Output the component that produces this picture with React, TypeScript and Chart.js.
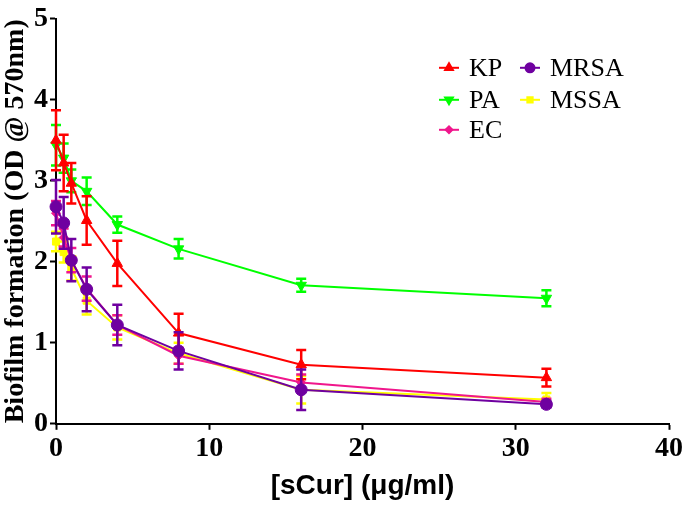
import React, { useEffect, useRef } from "react";
import { Chart, registerables } from "chart.js";
import { drawPoint } from "chart.js/helpers";

Chart.register(...registerables);

const concentrations = [0, 0.5, 1, 2, 4, 8, 16, 32];
const xTicks = [0, 10, 20, 30, 40];
const yTicks = [0, 1, 2, 3, 4, 5];

const kpMean = [3.5, 3.22, 2.97, 2.51, 1.98, 1.12, 0.73, 0.57];
const kpErr = [0.37, 0.35, 0.25, 0.3, 0.28, 0.24, 0.18, 0.11];
const paMean = [3.44, 3.28, 3.0, 2.87, 2.46, 2.16, 1.71, 1.55];
const paErr = [0.25, 0.18, 0.14, 0.17, 0.1, 0.12, 0.08, 0.1];
const ecMean = [2.6, 2.3, 2.02, 1.67, 1.22, 0.84, 0.51, 0.27];
const ecErr = [0.15, 0.11, 0.15, 0.15, 0.12, 0.1, 0.1, 0.04];
const mrsaMean = [2.68, 2.48, 2.02, 1.66, 1.22, 0.9, 0.42, 0.24];
const mrsaErr = [0.33, 0.32, 0.26, 0.27, 0.25, 0.23, 0.25, 0.04];
const mssaMean = [2.25, 2.12, 1.92, 1.52, 1.19, 0.87, 0.42, 0.3];
const mssaErr = [0.12, 0.13, 0.15, 0.17, 0.15, 0.13, 0.17, 0.08];

const seriesLabels = ["KP", "PA", "EC", "MRSA", "MSSA"];
const seriesColors = ["#ff0000", "#00ff00", "#f0168c", "#6f00a0", "#ffff00"];

const toPoints = (vals: number[]) => concentrations.map((x, i) => ({ x, y: vals[i] }));

const errorBarPlugin = {
  id: "errorBars",
  beforeDatasetDraw(chart: any, args: any) {
    const ds = chart.data.datasets[args.index];
    const errs: number[] = ds.errors;
    if (!errs) return;
    const ctx = chart.ctx;
    const ys = chart.scales.y;
    ctx.save();
    ctx.strokeStyle = ds.borderColor;
    ctx.lineWidth = 2.5;
    args.meta.data.forEach((pt: any, i: number) => {
      const v = ds.data[i].y;
      const e = errs[i];
      const yt = ys.getPixelForValue(v + e);
      const yb = ys.getPixelForValue(v - e);
      const x = pt.x;
      const cap = 5;
      ctx.beginPath();
      ctx.moveTo(x, yt);
      ctx.lineTo(x, yb);
      ctx.moveTo(x - cap, yt);
      ctx.lineTo(x + cap, yt);
      ctx.moveTo(x - cap, yb);
      ctx.lineTo(x + cap, yb);
      ctx.stroke();
    });
    ctx.restore();
  },
};

const legendPlugin = {
  id: "sideLegend",
  afterDraw(chart: any) {
    const { ctx, chartArea } = chart;
    const ds = chart.data.datasets;
    const colX = [chartArea.right - 230, chartArea.right - 149];
    const rowY = [chartArea.top + 49, chartArea.top + 81, chartArea.top + 111];
    const layout = [
      [0, 0],
      [0, 1],
      [0, 2],
      [1, 0],
      [1, 1],
    ];
    ctx.save();
    ctx.font = "26px 'Liberation Serif'";
    ctx.textBaseline = "middle";
    ctx.fillStyle = "#000";
    ds.forEach((d: any, i: number) => {
      const [c, r] = layout[i];
      const x = colX[c];
      const y = rowY[r];
      ctx.strokeStyle = d.borderColor;
      ctx.lineWidth = 2;
      ctx.beginPath();
      ctx.moveTo(x, y);
      ctx.lineTo(x + 20, y);
      ctx.stroke();
      ctx.fillStyle = d.pointBackgroundColor;
      drawPoint(
        ctx,
        { pointStyle: d.pointStyle, rotation: d.pointRotation || 0, radius: d.pointRadius * 0.75, borderWidth: 1 },
        x + 10,
        y
      );
      ctx.fillStyle = "#000";
      ctx.fillText(d.label, x + 30, y + 1);
    });
    ctx.restore();
  },
};

export default function App() {
  const ref = useRef<HTMLCanvasElement | null>(null);
  useEffect(() => {
    if (!ref.current) return;
    const means = [kpMean, paMean, ecMean, mrsaMean, mssaMean];
    const errs = [kpErr, paErr, ecErr, mrsaErr, mssaErr];
    const styles = ["triangle", "triangle", "rectRot", "circle", "rect"];
    const rotations = [0, 180, 0, 0, 0];
    const radii = [6, 6, 4.5, 6, 5];
    const orders = [1, 4, 2, 0, 3];
    const datasets = seriesLabels.map((label, i) => ({
      label,
      data: toPoints(means[i]),
      errors: errs[i],
      borderColor: seriesColors[i],
      backgroundColor: seriesColors[i],
      pointBackgroundColor: seriesColors[i],
      pointBorderColor: seriesColors[i],
      pointStyle: styles[i],
      pointRotation: rotations[i],
      pointRadius: radii[i],
      pointBorderWidth: 1,
      borderWidth: 2,
      tension: 0,
      clip: false as any,
      order: orders[i],
    }));
    const chart = new Chart(ref.current, {
      type: "line",
      data: { datasets: datasets as any },
      options: {
        animation: false,
        responsive: true,
        maintainAspectRatio: false,
        layout: { padding: { left: 2, right: 0, top: 2, bottom: 0 } },
        plugins: { legend: { display: false }, tooltip: { enabled: false } },
        scales: {
          x: {
            type: "linear",
            min: 0,
            max: 40,
            afterBuildTicks: (axis: any) => {
              axis.ticks = xTicks.map((v) => ({ value: v }));
            },
            grid: { drawOnChartArea: false, drawTicks: true, tickLength: 6, tickWidth: 2, tickColor: "#000" },
            border: { display: true, color: "#000", width: 2 },
            ticks: {
              color: "#000",
              padding: 2,
              font: { family: "'Liberation Serif'", size: 28, weight: "bold" },
            },
            title: {
              display: true,
              text: "[sCur] (μg/ml)",
              color: "#000",
              padding: { top: 2, bottom: 4 },
              font: { family: "'Liberation Sans'", size: 28, weight: "bold", lineHeight: 1.2 },
            },
          },
          y: {
            type: "linear",
            min: 0,
            max: 5,
            afterBuildTicks: (axis: any) => {
              axis.ticks = yTicks.map((v) => ({ value: v }));
            },
            grid: { drawOnChartArea: false, drawTicks: true, tickLength: 6, tickWidth: 2, tickColor: "#000" },
            border: { display: true, color: "#000", width: 2 },
            ticks: {
              color: "#000",
              padding: 2,
              font: { family: "'Liberation Serif'", size: 28, weight: "bold" },
            },
            title: {
              display: true,
              text: "Biofilm formation (OD @ 570nm)",
              color: "#000",
              padding: { top: 0, bottom: 2 },
              font: { family: "'Liberation Serif'", size: 28, weight: "bold", lineHeight: 1.0 },
            },
          },
        },
      },
      plugins: [errorBarPlugin, legendPlugin],
    });
    return () => chart.destroy();
  }, []);
  return (
    <div style={{ position: "fixed", left: 0, top: 0, width: 685, height: 507, background: "#fff" }}>
      <canvas ref={ref} />
    </div>
  );
}
